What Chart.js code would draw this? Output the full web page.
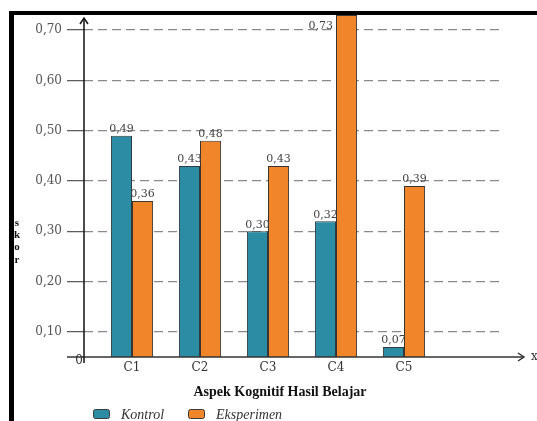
<!DOCTYPE html>
<html>
<head>
<meta charset="utf-8">
<script src="https://cdn.jsdelivr.net/npm/chart.js@4.4.1/dist/chart.umd.min.js"></script>
<style>
  html, body { margin: 0; padding: 0; background: #fff; }
  #wrap { position: relative; width: 537px; height: 421px; overflow: hidden; }
  #grafico { position: absolute; left: 0; top: 0; }
  #moldura { position: absolute; left: 9px; top: 11px; width: 600px; height: 500px;
    border-top: 4px solid #000; border-left: 5px solid #000; pointer-events: none; }
</style>
</head>
<body>
<div id="wrap">
  <canvas id="grafico" width="537" height="421"></canvas>
  <div id="moldura"></div>
</div>
<script>
var kategori = ['C1', 'C2', 'C3', 'C4', 'C5']
var kontrol = [0.49, 0.43, 0.30, 0.32, 0.07]
var eksperimen = [0.36, 0.48, 0.43, 0.73, 0.39]
var yTicks = [0.10, 0.20, 0.30, 0.40, 0.50, 0.60, 0.70]

var serif = "'Liberation Serif', serif"
var serifLebar = "'DejaVu Serif', serif"

function koma(v) {
  return v.toFixed(2).replace('.', ',')
}

// garis sumbu, panah, judul sumbu, label nilai dan legenda
var dekorasi = {
  id: 'dekorasi',
  afterDatasetsDraw(chart) {
    var ctx = chart.ctx
    var area = chart.chartArea
    var y = chart.scales.y
    var base = y.getPixelForValue(y.min)

    ctx.save()
    // label nilai di atas batang
    ctx.font = '11px ' + serifLebar
    ctx.fillStyle = '#444'
    chart.data.datasets.forEach(function (ds, di) {
      var meta = chart.getDatasetMeta(di)
      meta.data.forEach(function (el, i) {
        var teks = koma(ds.data[i].y)
        if (el.y - 14 < 18) {
          ctx.textAlign = 'right'
          ctx.textBaseline = 'middle'
          ctx.fillText(teks, el.x - el.width / 2 - 3, el.y + 11)
        } else {
          ctx.textAlign = 'center'
          ctx.textBaseline = 'bottom'
          ctx.fillText(teks, el.x, el.y - 1)
        }
      })
    })

    // sumbu x
    ctx.strokeStyle = '#333'
    ctx.lineWidth = 1.5
    ctx.beginPath()
    ctx.moveTo(67, base)
    ctx.lineTo(523, base)
    ctx.stroke()
    ctx.beginPath()
    ctx.moveTo(518, base - 4)
    ctx.lineTo(524, base)
    ctx.lineTo(518, base + 4)
    ctx.stroke()

    // sumbu y
    ctx.strokeStyle = '#111'
    ctx.beginPath()
    ctx.moveTo(area.left, base + 6)
    ctx.lineTo(area.left, 19)
    ctx.stroke()
    ctx.beginPath()
    ctx.moveTo(area.left - 4, 24)
    ctx.lineTo(area.left, 18)
    ctx.lineTo(area.left + 4, 24)
    ctx.stroke()

    ctx.fillStyle = '#333'
    ctx.font = '12px ' + serifLebar
    ctx.textAlign = 'left'
    ctx.textBaseline = 'middle'
    ctx.fillText('x', 531, base)
    ctx.textAlign = 'right'
    ctx.fillText('0', 83, base + 4)

    // judul sumbu y (huruf bertumpuk)
    ctx.fillStyle = '#111'
    ctx.font = 'bold 11px ' + serif
    ctx.textAlign = 'center'
    var huruf = ['s', 'k', 'o', 'r']
    var hy = [223, 235, 247, 260]
    huruf.forEach(function (h, i) {
      ctx.fillText(h, 17, hy[i])
    })

    // judul sumbu x
    ctx.font = 'bold 14px ' + serif
    ctx.fillText('Aspek Kognitif Hasil Belajar', 280, 392)

    // legenda
    var lx = [93, 188]
    chart.data.datasets.forEach(function (ds, di) {
      ctx.fillStyle = ds.backgroundColor
      ctx.strokeStyle = '#3a3a3a'
      ctx.lineWidth = 1
      ctx.beginPath()
      ctx.roundRect(lx[di] + 0.5, 409.5, 16, 9, 2)
      ctx.fill()
      ctx.stroke()
      ctx.fillStyle = '#333'
      ctx.font = 'italic 14px ' + serif
      ctx.textAlign = 'left'
      ctx.fillText(ds.label, lx[di] + 28, 415)
    })
    ctx.restore()
  }
}

new Chart(document.getElementById('grafico'), {
  type: 'bar',
  data: {
    datasets: [{
      label: 'Kontrol',
      data: kontrol.map((v, i) => ({ x: i, y: v })),
      backgroundColor: '#2b8ca4',
      borderColor: '#2f3a3e',
      borderWidth: 1
    }, {
      label: 'Eksperimen',
      data: eksperimen.map((v, i) => ({ x: i, y: v })),
      backgroundColor: '#f0852a',
      borderColor: '#3a3330',
      borderWidth: 1
    }]
  },
  plugins: [dekorasi],
  options: {
    responsive: false,
    animation: false,
    layout: { padding: { left: 0, right: 34, top: 10, bottom: 0 } },
    datasets: { bar: { categoryPercentage: 0.62, barPercentage: 1 } },
    plugins: { legend: { display: false }, tooltip: { enabled: false } },
    scales: {
      x: {
        type: 'linear',
        offset: false,
        min: -0.706,
        max: 5.456,
        afterBuildTicks: function (scale) {
          scale.ticks = kategori.map((k, i) => ({ value: i }))
        },
        afterFit: function (scale) { scale.height = 64 },
        grid: { display: false, drawTicks: false },
        border: { display: false },
        ticks: {
          padding: 4,
          color: '#333',
          font: { family: serifLebar, size: 12 },
          callback: function (v) { return kategori[v] }
        }
      },
      y: {
        min: 0.05,
        max: 0.7356,
        afterBuildTicks: function (scale) {
          scale.ticks = yTicks.map(v => ({ value: v }))
        },
        afterFit: function (scale) { scale.width = 84 },
        grid: { color: '#8a8a8a', lineWidth: 1.3, tickLength: 17, tickColor: '#555', tickWidth: 1.2 },
        border: { display: false, dash: [9, 5] },
        ticks: {
          padding: 5,
          color: '#555',
          font: { family: serifLebar, size: 12 },
          callback: function (v) { return koma(v) }
        }
      }
    }
  }
})
</script>
</body>
</html>
